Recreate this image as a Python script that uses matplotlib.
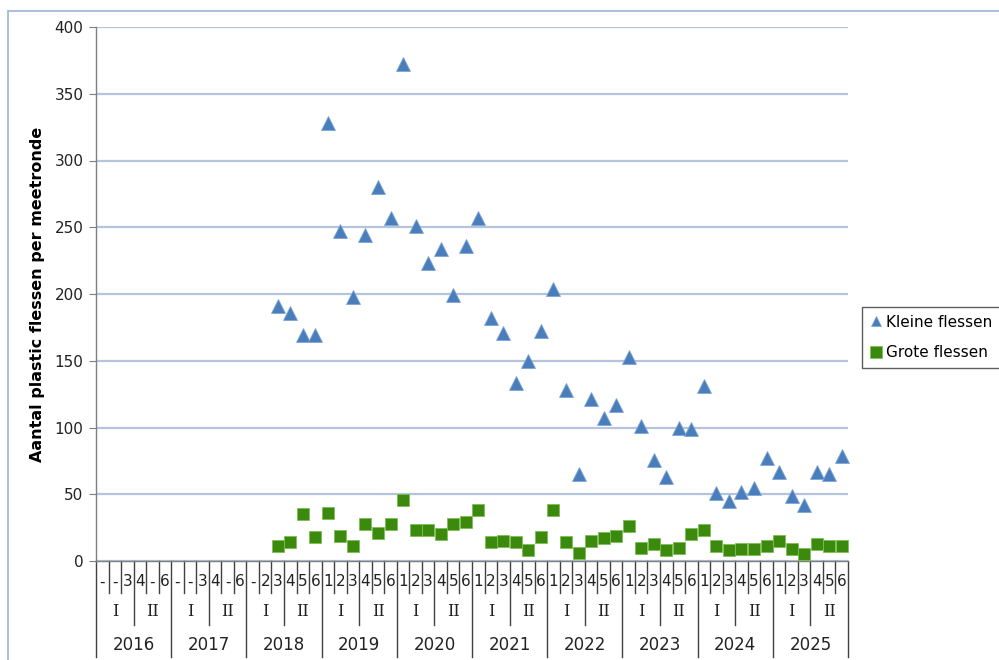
import numpy as np
import matplotlib
matplotlib.use("Agg")
import matplotlib.pyplot as plt
from matplotlib.lines import Line2D
from matplotlib.patches import Rectangle
import matplotlib.transforms as mtransforms

nan = np.nan

years = ['2016', '2017', '2018', '2019', '2020', '2021', '2022', '2023', '2024', '2025']
halves = ['I', 'II']
period_labels = (['-', '-', '3', '4', '-', '6'] +
                 ['-', '-', '3', '4', '-', '6'] +
                 ['-', '2', '3', '4', '5', '6'] +
                 ['1', '2', '3', '4', '5', '6'] * 7)

kleine_flessen = [nan] * 14 + [
    191, 186, 169, 169,                 # 2018
    328, 247, 198, 244, 280, 257,       # 2019
    372, 251, 223, 234, 199, 236,       # 2020
    257, 182, 171, 133, 150, 172,       # 2021
    204, 128, 65, 121, 107, 117,        # 2022
    153, 101, 76, 63, 100, 99,          # 2023
    131, 51, 45, 52, 55, 77,            # 2024
    67, 49, 42, 67, 65, 79]             # 2025

grote_flessen = [nan] * 14 + [
    11, 14, 35, 18,
    36, 19, 11, 28, 21, 28,
    46, 23, 23, 20, 28, 29,
    38, 14, 15, 14, 8, 18,
    38, 14, 6, 15, 17, 19,
    26, 10, 13, 8, 10, 20,
    23, 11, 8, 9, 9, 11,
    15, 9, 5, 13, 11, 11]

W, H = 999, 660
fig = plt.figure(figsize=(W / 100, H / 100), dpi=100)
ax_l, ax_r, ax_t, ax_b = 96, 848, 27, 561
ax = fig.add_axes([ax_l / W, (H - ax_b) / H, (ax_r - ax_l) / W, (ax_b - ax_t) / H])

n = len(period_labels)
x = np.arange(n)

grid_c = '#b5c4de'
axis_c = '#7f7f7f'
text_c = '#222222'

ax.set_xlim(-0.5, n - 0.5)
ax.set_ylim(0, 400)
ax.set_yticks(np.arange(0, 401, 50))
ax.yaxis.grid(True, color=grid_c, lw=1.6)
ax.set_axisbelow(True)
ax.tick_params(axis='y', direction='out', length=5, color=axis_c, labelsize=11,
               labelcolor=text_c, pad=4)
ax.set_xticks([])
for s in ['top', 'right']:
    ax.spines[s].set_visible(False)
for s in ['left', 'bottom']:
    ax.spines[s].set_color(axis_c)
    ax.spines[s].set_linewidth(1.0)

ax.plot(x, kleine_flessen, ls='none', marker='^', ms=10, mfc='#4a7ebb',
        mec='#7ea6d6', mew=0.6, zorder=3, clip_on=False)
ax.plot(x, grote_flessen, ls='none', marker='s', ms=8.5, mfc='#3b8a0e',
        mec='#7cbf55', mew=0.6, zorder=3, clip_on=False)

ax.set_ylabel('Aantal plastic flessen per meetronde', fontsize=11.5,
              fontweight='bold', color='black')
ax.yaxis.set_label_coords((45 - ax_l) / (ax_r - ax_l), 0.5)

# multi-level category axis
trans = mtransforms.blended_transform_factory(ax.transData, ax.transAxes)
ah = ax_b - ax_t


def fy(px):
    return -(px - ax_b) / ah


y_cat_end, y_half_end, y_year_end = 593, 625, 657
for i in range(n + 1):
    xb = i - 0.5
    if i % 6 == 0:
        yend = y_year_end
    elif i % 3 == 0:
        yend = y_half_end
    else:
        yend = y_cat_end
    ax.add_line(Line2D([xb, xb], [0, fy(yend)], transform=trans, color='#404040',
                       lw=1.0, clip_on=False))

for i, lab in enumerate(period_labels):
    ax.text(i, fy(582), lab, transform=trans, ha='center', va='center',
            fontsize=11, color=text_c, clip_on=False)
for yi, yr in enumerate(years):
    for hi, hl in enumerate(halves):
        xc = yi * 6 + hi * 3 + 1
        ax.text(xc, fy(612), hl, transform=trans, ha='center', va='center',
                fontsize=11.5, color=text_c, family='DejaVu Serif', clip_on=False)
    ax.text(yi * 6 + 2.5, fy(645), yr, transform=trans, ha='center', va='center',
            fontsize=12, color=text_c, clip_on=False)

# outer chart border
fig.add_artist(Rectangle((8 / W, -0.1), 1.2, (H - 11) / H + 0.1,
                         transform=fig.transFigure, fill=False,
                         edgecolor='#9db3d6', lw=1.2))

handles = [Line2D([], [], ls='none', marker='^', ms=7, mfc='#4a7ebb', mec='#7ea6d6', mew=0.5),
           Line2D([], [], ls='none', marker='s', ms=8.5, mfc='#3b8a0e', mec='#7cbf55', mew=0.5)]
leg = fig.legend(handles, ['Kleine flessen', 'Grote flessen'], loc='upper left',
                 bbox_to_anchor=(862 / W, (H - 307) / H), fontsize=11,
                 frameon=True, fancybox=False, edgecolor='#333333',
                 handlelength=0.8, handletextpad=0.3, labelspacing=1.0,
                 borderpad=0.5, borderaxespad=0)
leg.get_frame().set_linewidth(1.0)

fig.savefig('out.png', dpi=100)
